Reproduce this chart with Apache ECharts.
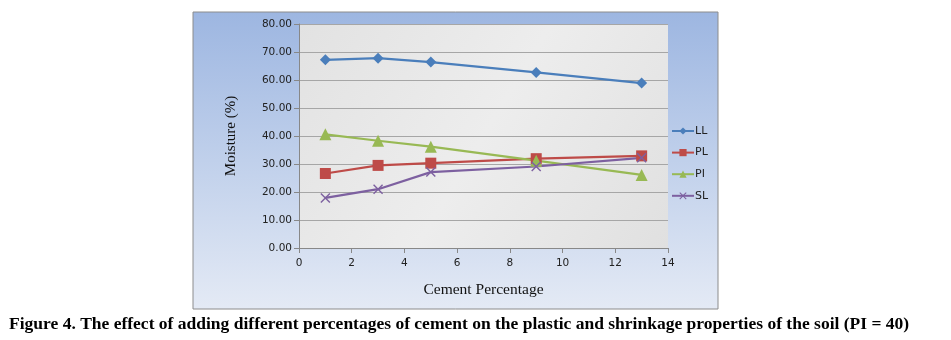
<!DOCTYPE html>
<html><head><meta charset="utf-8">
<script src="https://cdn.jsdelivr.net/npm/echarts@6/dist/echarts.min.js"></script>
<style>html,body{margin:0;padding:0;background:#fff}#c{width:951px;height:340px}</style>
</head><body><div id="c"></div>
<script>
const cement = [1, 3, 5, 9, 13];
const LL = [67.2, 67.8, 66.4, 62.7, 58.9];
const PL = [26.6, 29.5, 30.3, 31.9, 32.9];
const PI = [40.6, 38.3, 36.2, 31.2, 26.1];
const SL = [17.9, 21.0, 27.1, 29.1, 32.2];
const yTicks = [0, 10, 20, 30, 40, 50, 60, 70, 80];
const seriesNames = ['LL', 'PL', 'PI', 'SL'];
const caption = 'Figure 4. The effect of adding different percentages of cement on the plastic and shrinkage properties of the soil (PI = 40)';

const chart = echarts.init(document.getElementById('c'));
const pairs = a => cement.map((x, i) => [x, a[i]]);
const xShape = 'path://M0,1L1,0L5,4L9,0L10,1L6,5L10,9L9,10L5,6L1,10L0,9L4,5Z';
const mk = (name, data, color, symbol, size) => ({
  name, type: 'line', data: pairs(data), symbol, symbolSize: size,
  lineStyle: {color, width: 2.2}, itemStyle: {color}
});
chart.setOption({
  animation: false,
  graphic: [
    {type: 'rect', shape: {x: 193, y: 12, width: 525, height: 297}, z: -10,
     style: {fill: new echarts.graphic.LinearGradient(0, 0, 0, 1, [
       {offset: 0, color: '#9db6e1'}, {offset: 0.5, color: '#c0d0eb'}, {offset: 1, color: '#e4eaf5'}]),
       stroke: '#8c8c8c', lineWidth: 1}},
    {type: 'rect', shape: {x: 299, y: 24, width: 369, height: 224}, z: -5,
     style: {fill: new echarts.graphic.LinearGradient(0, 0, 1, 1, [
       {offset: 0, color: '#e2e2e2'}, {offset: 0.5, color: '#ededed'}, {offset: 1, color: '#e0e0e0'}])}}
  ],
  title: {text: caption, left: 4, top: 310,
    textStyle: {fontFamily: 'Liberation Serif', fontWeight: 'bold', fontSize: 17.5, color: '#000'}},
  legend: {orient: 'vertical', left: 671, top: 125.5, itemGap: 10.6, itemWidth: 22, itemHeight: 9,
    padding: 0,
    data: seriesNames, textStyle: {fontFamily: 'DejaVu Sans', fontSize: 11, color: '#222', padding: [0,0,0,-4]}},
  grid: {left: 299, top: 24, width: 369, height: 224},
  xAxis: {type: 'value', min: 0, max: 14, interval: 2,
    name: 'Cement Percentage', nameLocation: 'middle', nameGap: 34,
    nameTextStyle: {fontFamily: 'Liberation Serif', fontSize: 15.5, color: '#111'},
    axisLine: {lineStyle: {color: '#888'}}, axisTick: {show: true, lineStyle: {color: '#888'}},
    splitLine: {show: false},
    axisLabel: {fontFamily: 'DejaVu Sans', fontSize: 10.5, color: '#222', margin: 10}},
  yAxis: {type: 'value', min: 0, max: 80, interval: 10,
    name: 'Moisture (%)', nameLocation: 'middle', nameGap: 60, nameRotate: 90,
    nameTextStyle: {fontFamily: 'Liberation Serif', fontSize: 15, color: '#111'},
    axisLine: {show: true, lineStyle: {color: '#888'}}, axisTick: {show: true, lineStyle: {color: '#888'}},
    splitLine: {lineStyle: {color: '#a6a6a6'}},
    axisLabel: {fontFamily: 'DejaVu Sans', fontSize: 10.5, color: '#222', margin: 7,
      formatter: v => yTicks.includes(v) ? v.toFixed(2) : ''}},
  series: [
    mk('LL', LL, '#4a7ebb', 'diamond', 11),
    mk('PL', PL, '#be4b48', 'rect', 11),
    mk('PI', PI, '#98b954', 'triangle', 12),
    mk('SL', SL, '#7d60a0', xShape, 10)
  ]
});
</script></body></html>
